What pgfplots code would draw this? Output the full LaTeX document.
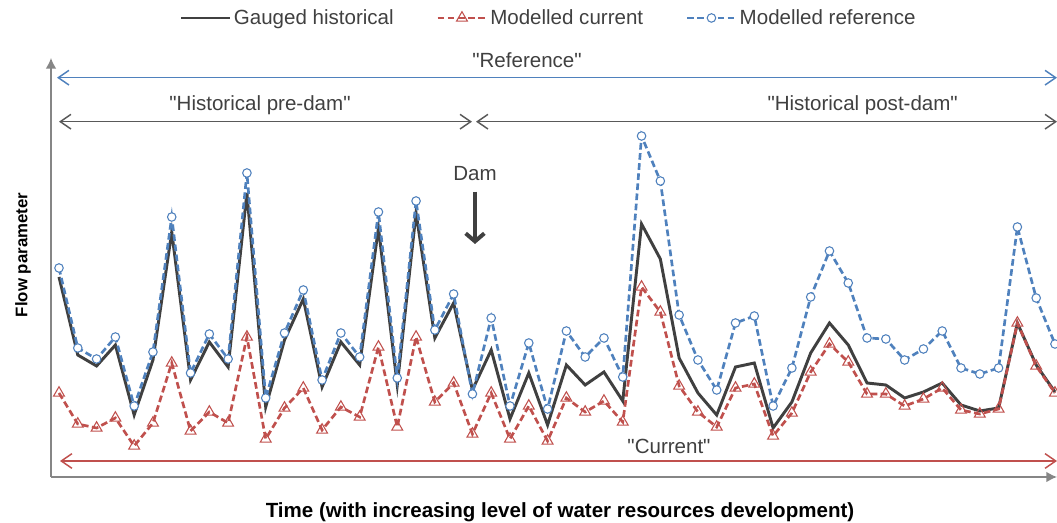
\documentclass[border=0pt]{standalone}
\usepackage{fontspec}
\setmainfont{Liberation Sans}[Ligatures=TeXOff]
\usepackage{pgfplots}
\pgfplotsset{compat=1.18}
\usepackage{pgfplotstable}
\usetikzlibrary{arrows.meta}
\definecolor{cblack}{HTML}{404040}
\definecolor{cred}{HTML}{C0504D}
\definecolor{cblue}{HTML}{4F81BD}
\definecolor{caxis}{HTML}{868686}
\definecolor{ctext}{HTML}{404040}
\definecolor{carrow}{HTML}{595959}
\newcommand\mf{\fontsize{15.4}{18.5}\selectfont}

\pgfplotstableread{
i g c r
0 20.0 8.4 20.9
1 12.2 5.3 12.9
2 11.1 4.9 11.8
3 13.2 5.9 14.0
4 6.2 3.1 7.1
5 11.7 5.4 12.5
6 24.5 11.4 26.0
7 9.7 4.6 10.4
8 13.5 6.5 14.3
9 11.0 5.4 11.8
10 28.4 14.0 30.4
11 7.0 3.8 7.9
12 13.7 6.9 14.4
13 17.8 8.9 18.7
14 9.0 4.7 9.7
15 13.5 7.0 14.4
16 11.2 6.0 12.0
17 24.9 13.0 26.5
18 9.2 5.0 9.9
19 26.4 14.0 27.6
20 13.9 7.5 14.7
21 17.4 9.4 18.3
22 8.7 4.3 8.3
23 12.7 8.4 15.9
24 5.8 3.8 7.1
25 10.4 7.1 13.4
26 5.2 3.6 6.8
27 11.2 7.9 14.6
28 9.2 6.5 12.0
29 10.5 7.6 13.9
30 7.6 5.5 10.0
31 25.3 19.0 34.1
32 21.8 16.5 29.6
33 11.9 9.1 16.2
34 8.4 6.5 11.7
35 6.2 5.0 8.7
36 11.0 8.9 15.4
37 11.4 9.3 16.1
38 4.9 4.1 7.1
39 7.5 6.4 10.9
40 12.4 10.5 18.0
41 15.4 13.3 22.6
42 13.2 11.5 19.4
43 9.4 8.3 13.9
44 9.2 8.3 13.8
45 7.9 7.1 11.7
46 8.5 7.8 12.8
47 9.4 8.9 14.6
48 7.2 6.7 10.9
49 6.6 6.3 10.3
50 6.9 6.8 10.9
51 15.4 15.4 25.0
52 11.2 11.1 17.9
53 8.5 8.4 13.3
}\data

\begin{document}
\begin{tikzpicture}
\path[use as bounding box] (0,0) rectangle (792.75pt,392.25pt);
\begin{axis}[
  at={(38.25pt,34.5pt)}, anchor=south west,
  scale only axis, width=754.5pt, height=314.25pt,
  xmin=-0.4257, xmax=53.108, ymin=0, ymax=41.9,
  axis lines=left,
  axis line style={draw=caxis, line width=1.1pt, -{Latex[length=8pt,width=8pt]}},
  xtick=\empty, ytick=\empty,
  clip=false,
  xlabel={\textbf{Time (with increasing level of water resources development)}},
  xlabel style={at={(axis description cs:0.506,-0.0835)}, anchor=center, font=\mf, text=black},
  ylabel={\textbf{Flow parameter}},
  ylabel style={at={(axis description cs:-0.0278,0.53)}, anchor=center, rotate=0, font=\fontsize{12.6}{15}\selectfont, text=black},
  legend style={at={(0.495,1.0955)}, anchor=center, legend columns=3, draw=none, fill=none,
    font=\mf, text=ctext, /tikz/every even column/.append style={column sep=30pt}},
  legend image code/.code={\draw[mark repeat=2,mark phase=2] plot coordinates {(0cm,0cm)(0.64cm,0cm)(1.28cm,0cm)};},
]
\addplot[cblack, line width=2.2pt, no markers] table[x=i,y=g]{\data};
\addlegendentry{Gauged historical}
\addplot[cred, line width=2pt, dash pattern=on 5pt off 2.6pt, mark=triangle, mark size=4.7pt,
  mark options={solid, fill=white, line width=0.8pt}] table[x=i,y=c]{\data};
\addlegendentry{Modelled current}
\addplot[cblue, line width=2pt, dash pattern=on 5pt off 2.6pt, mark=*, mark size=3.2pt,
  mark options={solid, fill=white, draw=cblue, line width=0.8pt}] table[x=i,y=r]{\data};
\addlegendentry{Modelled reference}
\end{axis}
% annotations
\draw[cblue, line width=1.1pt, {Straight Barb[length=8pt,width=11pt]}-{Straight Barb[length=8pt,width=11pt]}] (42.75pt,333.98pt) -- (792.75pt,333.98pt);
\node[font=\mf, text=ctext] at (395.25pt,347.25pt) {"Reference"};
\draw[carrow, line width=1.1pt, {Straight Barb[length=8pt,width=11pt]}-{Straight Barb[length=8pt,width=11pt]}] (44.25pt,300.98pt) -- (354pt,300.98pt);
\draw[carrow, line width=1.1pt, {Straight Barb[length=8pt,width=11pt]}-{Straight Barb[length=8pt,width=11pt]}] (357pt,300.98pt) -- (792.75pt,300.98pt);
\node[font=\mf, text=ctext] at (195pt,313pt) {"Historical pre-dam"};
\node[font=\mf, text=ctext] at (647pt,313pt) {"Historical post-dam"};
\draw[cred, line width=1.1pt, {Straight Barb[length=8pt,width=11pt]}-{Straight Barb[length=8pt,width=11pt]}] (45pt,46.5pt) -- (792.75pt,46.5pt);
\node[font=\mf, text=ctext] at (501.75pt,57.5pt) {"Current"};
\node[font=\mf, text=ctext] at (356.25pt,261.75pt) {Dam};
\draw[ctext, line width=3pt, -{Straight Barb[length=6pt,width=14pt]}] (356.25pt,248.5pt) -- (356.25pt,209.25pt);
\end{tikzpicture}
\end{document}
